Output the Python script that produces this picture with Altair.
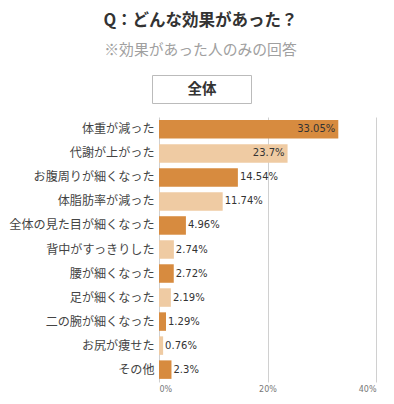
import altair as alt
import pandas as pd

categories = ["体重が減った", "代謝が上がった", "お腹周りが細くなった", "体脂肪率が減った",
              "全体の見た目が細くなった", "背中がすっきりした", "腰が細くなった",
              "足が細くなった", "二の腕が細くなった", "お尻が痩せた", "その他"]
values = [33.05, 23.7, 14.54, 11.74, 4.96, 2.74, 2.72, 2.19, 1.29, 0.76, 2.3]
labels = ["33.05%", "23.7%", "14.54%", "11.74%", "4.96%", "2.74%", "2.72%",
          "2.19%", "1.29%", "0.76%", "2.3%"]
x_ticks = [0, 20, 40]

df = pd.DataFrame({
    "cat": categories,
    "value": values,
    "label": labels,
    "shade": ["a" if i % 2 == 0 else "b" for i in range(len(categories))],
})

JP = "Noto Sans CJK JP"

y_enc = alt.Y("cat:N", sort=categories,
              scale=alt.Scale(paddingInner=0.23, paddingOuter=0.13),
              axis=alt.Axis(title=None, ticks=False, domain=False, labelFont=JP,
                            labelFontSize=12.1, labelColor="#444", labelPadding=5,
                            labelLimit=300))
x_enc = alt.X("value:Q", scale=alt.Scale(domain=[0, 40], nice=False),
              axis=alt.Axis(title=None, values=x_ticks, labelExpr="datum.value + '%'",
                            ticks=False, domain=False, grid=True, gridColor="#d0d0d0",
                            labelFontSize=8, labelColor="#777", labelPadding=3,
                            labelFont="DejaVu Sans"))

base = alt.Chart(df)

bars = base.mark_bar().encode(
    y=y_enc, x=x_enc,
    color=alt.Color("shade:N", legend=None,
                    scale=alt.Scale(domain=["a", "b"], range=["#D78B3F", "#EFCBA3"])),
)

text_in = base.transform_filter("datum.value > 20").mark_text(
    align="right", dx=-3, font="DejaVu Sans", fontSize=10, color="#333"
).encode(y=alt.Y("cat:N", sort=categories), x="value:Q", text="label:N")

text_out = base.transform_filter("datum.value <= 20").mark_text(
    align="left", dx=2, font="DejaVu Sans", fontSize=10, color="#333"
).encode(y=alt.Y("cat:N", sort=categories), x="value:Q", text="label:N")

header = pd.DataFrame({"t": ["全体"]})
box = alt.Chart(header).mark_rect(fill="white", stroke="#bbbbbb", strokeWidth=1).encode(
    x=alt.value(-6.5), x2=alt.value(92.5), y=alt.value(-41.5), y2=alt.value(-13.5))
box_text = alt.Chart(header).mark_text(
    font=JP, fontSize=14.5, fontWeight="bold", color="#333", baseline="middle"
).encode(x=alt.value(43), y=alt.value(-27.5), text="t:N")

chart = alt.layer(bars, text_in, text_out, box, box_text).properties(
    width=217, height=265,
    autosize=alt.AutoSizeParams(type="none"),
    padding={"left": 151, "top": 109, "right": 10, "bottom": 22},
    title=alt.TitleParams(
        text="Q：どんな効果があった？",
        subtitle="※効果があった人のみの回答",
        anchor="middle", frame="group", dx=-67,
        font=JP, fontSize=16.5, fontWeight="bold", color="#333",
        subtitleFont=JP, subtitleFontSize=14.8, subtitleColor="#a0a0a0",
        subtitlePadding=14, offset=17,
    ),
).configure_view(stroke=None)

chart.save("out.html", embed_options={"renderer": "svg", "actions": False})
